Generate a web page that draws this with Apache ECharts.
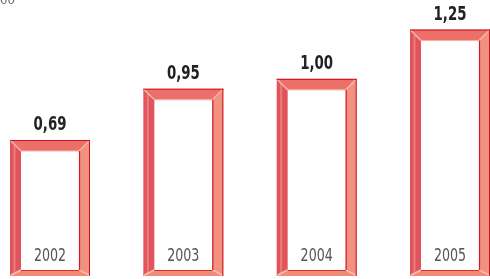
<!DOCTYPE html>
<html>
<head>
<meta charset="utf-8">
<script src="https://cdn.jsdelivr.net/npm/echarts@6/dist/echarts.min.js"></script>
<style>
  html, body { margin: 0; padding: 0; background: #fff; }
  #chart { width: 490px; height: 279px; }
</style>
</head>
<body>
<div id="chart"></div>
<script>
// data
const years = ['2002', '2003', '2004', '2005']
const values = [0.69, 0.95, 1.00, 1.25]
const valueLabels = ['0,69', '0,95', '1,00', '1,25']

const FONT = '"Liberation Sans Narrow", "DejaVu Sans Condensed", sans-serif'

function renderFrame(params, api) {
  const i = api.value(0)
  const top = api.coord([i, api.value(1)])
  const base = api.coord([i, 0])
  const w = api.size([1, 0])[0] * 0.6
  const L = top[0] - w / 2, R = top[0] + w / 2
  const T = top[1], B = base[1]
  const t = 11, tb = 6
  const poly = (pts, fill) => ({ type: 'polygon', shape: { points: pts }, style: { fill: fill } })
  const line = (x1, y1, x2, y2, c, lw) => ({
    type: 'line', shape: { x1, y1, x2, y2 }, style: { stroke: c, lineWidth: lw || 1 }
  })
  return {
    type: 'group',
    children: [
      poly([[L, T], [L + t, T + t], [L + t, B - tb], [L, B]], '#e0545d'),
      poly([[L, T], [R, T], [R - t, T + t], [L + t, T + t]], '#ec6f6a'),
      poly([[R, T], [R, B], [R - t, B - tb], [R - t, T + t]], '#f2917f'),
      poly([[L, B], [R, B], [R - t, B - tb], [L + t, B - tb]], '#f28a78'),
      // highlights
      line(L + 4.5, T + 5, L + 4.5, B - 3, '#ea7c7c', 2),
      line(L + 1, T + 1, L + t, T + t, '#f6b3a8', 1.5),
      line(R - 1, T + 1, R - t, T + t, '#f6b3a8', 1.5),
      line(L + 1, B - 1, L + t, B - tb, '#f8c0b0', 1.5),
      line(R - 1, B - 1, R - t, B - tb, '#f8c0b0', 1.5),
      line(L + t, T + t, R - t, T + t, '#f7b0a4', 1),
      // dark edges
      line(L, T + 0.5, R, T + 0.5, '#c8141e', 1),
      line(R - 0.5, T, R - 0.5, B, '#c8141e', 1),
      line(R - t + 0.5, T + t, R - t + 0.5, B - tb, '#cf1c24', 1.2),
      line(L + t, B - tb + 0.5, R - t, B - tb + 0.5, '#d92a2e', 1),
      // value label
      {
        type: 'text', x: top[0], y: T - 15, scaleX: 0.78,
        style: {
          text: valueLabels[i], fill: '#222', font: 'bold 19px ' + FONT,
          align: 'center', verticalAlign: 'middle'
        }
      },
      // year label
      {
        type: 'text', x: top[0], y: B - 20, scaleX: 0.78,
        style: {
          text: years[i], fill: '#555', font: '18px ' + FONT,
          align: 'center', verticalAlign: 'middle'
        }
      }
    ]
  }
}

const chart = echarts.init(document.getElementById('chart'))
chart.setOption({
  animation: false,
  grid: { left: 0, right: 0, top: 0, bottom: 3 },
  xAxis: { type: 'value', min: -0.375, max: 3.3, show: false },
  yAxis: { type: 'value', min: 0, max: 1.4, show: false },
  graphic: [{
    type: 'text', left: 0, top: -6,
    style: { text: '00', fill: '#666', font: '13px ' + FONT }
  }],
  series: [{
    type: 'custom',
    renderItem: renderFrame,
    data: values.map((v, i) => [i, v])
  }]
})
</script>
</body>
</html>
